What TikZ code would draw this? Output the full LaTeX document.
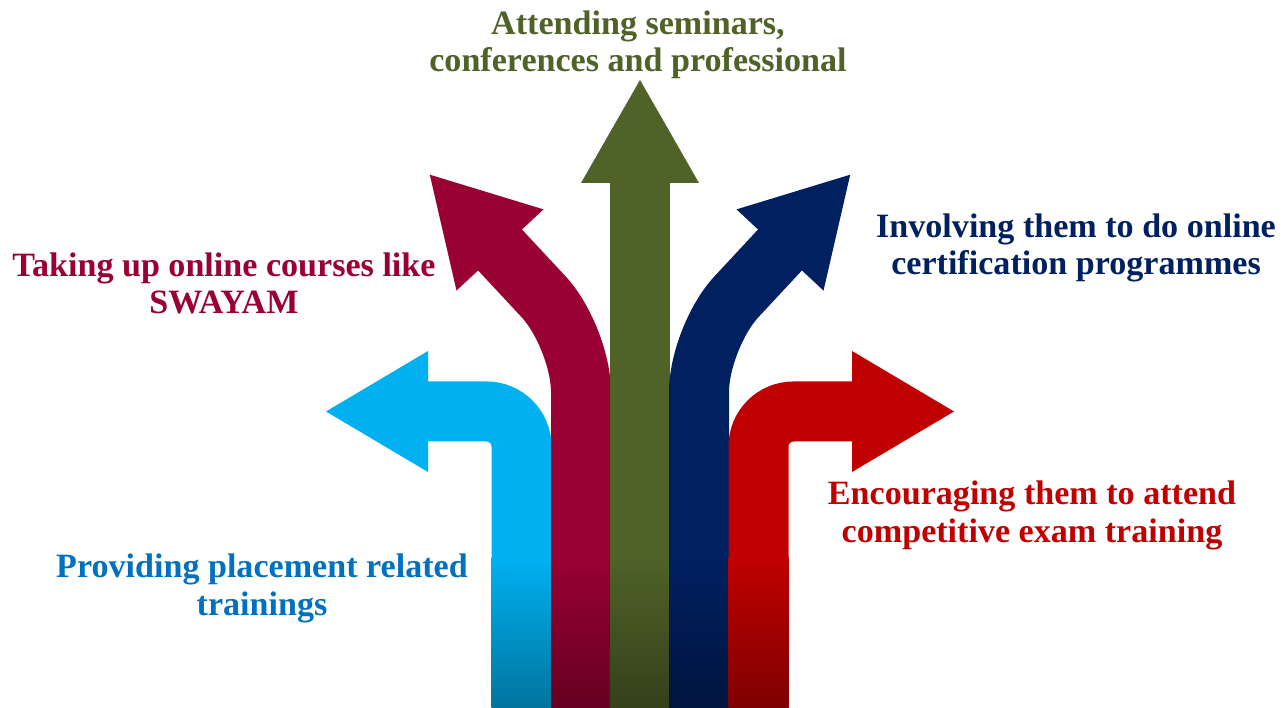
\documentclass[tikz,border=0pt]{standalone}
\usepackage{fontspec}
\setmainfont{Liberation Serif}
\usepackage{tikz}
\usetikzlibrary{arrows,shapes}

\definecolor{skyarr}{HTML}{00B0F0}
\definecolor{wineArr}{HTML}{990033}
\definecolor{oliveArr}{HTML}{4F6228}
\definecolor{navyArr}{HTML}{002060}
\definecolor{redArr}{HTML}{C00000}
\definecolor{blueTxt}{HTML}{0070C0}

\tikzset{
  shaft/.style={draw,line width=0.6cm},
  lbl/.style={align=center,inner sep=0pt,font=\fontsize{9.7}{10.6}\selectfont\bfseries}
}

\begin{document}
\begin{tikzpicture}
\useasboundingbox (0,0) rectangle (12.88,7.08);

%%% LEFT ARROW (PLACEMENT)
\path[shaft,color=skyarr,rounded corners=0.35cm] (5.215,-0.05) -- (5.215,2.965) -- (4.26,2.965);
\path[fill=skyarr] (4.28,3.57) -- (3.26,2.965) -- (4.28,2.36) -- cycle;

%%% UPPER LEFT ARROW (SWAYAM)
\path[shaft,color=wineArr,rounded corners=0.55cm] (5.81,-0.05) -- (5.81,3.71) -- (4.98,4.602);
\path[fill=wineArr] (5.435,4.986) -- (4.298,5.333) -- (4.565,4.174) -- cycle;

%%% MIDDLE ARROW (SEMINARS)
\path[shaft,color=oliveArr] (6.40,-0.05) -- (6.40,5.27);
\path[fill=oliveArr] (5.81,5.25) -- (6.40,6.28) -- (6.99,5.25) -- cycle;

%%% UPPER RIGHT ARROW (CERTIFICATION)
\path[shaft,color=navyArr,rounded corners=0.55cm] (6.99,-0.05) -- (6.99,3.71) -- (7.82,4.602);
\path[fill=navyArr] (7.365,4.986) -- (8.502,5.333) -- (8.235,4.174) -- cycle;

%%% RIGHT ARROW (EXAMS)
\path[shaft,color=redArr,rounded corners=0.35cm] (7.585,-0.05) -- (7.585,2.965) -- (8.54,2.965);
\path[fill=redArr] (8.52,3.57) -- (9.54,2.965) -- (8.52,2.36) -- cycle;

%%% DARK ENDS
\shade[top color=skyarr,bottom color=skyarr!65!black] (4.915,-0.05) rectangle (5.515,1.5);
\shade[top color=wineArr,bottom color=wineArr!65!black] (5.51,-0.05) rectangle (6.11,1.5);
\shade[top color=oliveArr,bottom color=oliveArr!65!black] (6.10,-0.05) rectangle (6.70,1.5);
\shade[top color=navyArr,bottom color=navyArr!65!black] (6.69,-0.05) rectangle (7.29,1.5);
\shade[top color=redArr,bottom color=redArr!65!black] (7.285,-0.05) rectangle (7.885,1.5);

%%% LABELS
\path (6.38,6.635) node[lbl,color=oliveArr] (nodeSem) {Attending seminars,\\conferences and professional};
\path (2.24,4.245) node[lbl,color=wineArr] (nodeSwa) {Taking up online courses like\\SWAYAM};
\path (10.76,4.60) node[lbl,color=navyArr] (nodeCer) {Involving them to do online\\certification programmes};
\path (10.32,1.925) node[lbl,color=redArr] (nodeExm) {Encouraging them to attend\\competitive exam training};
\path (2.62,1.195) node[lbl,color=blueTxt] (nodePla) {Providing placement related\\trainings};
\end{tikzpicture}
\end{document}
